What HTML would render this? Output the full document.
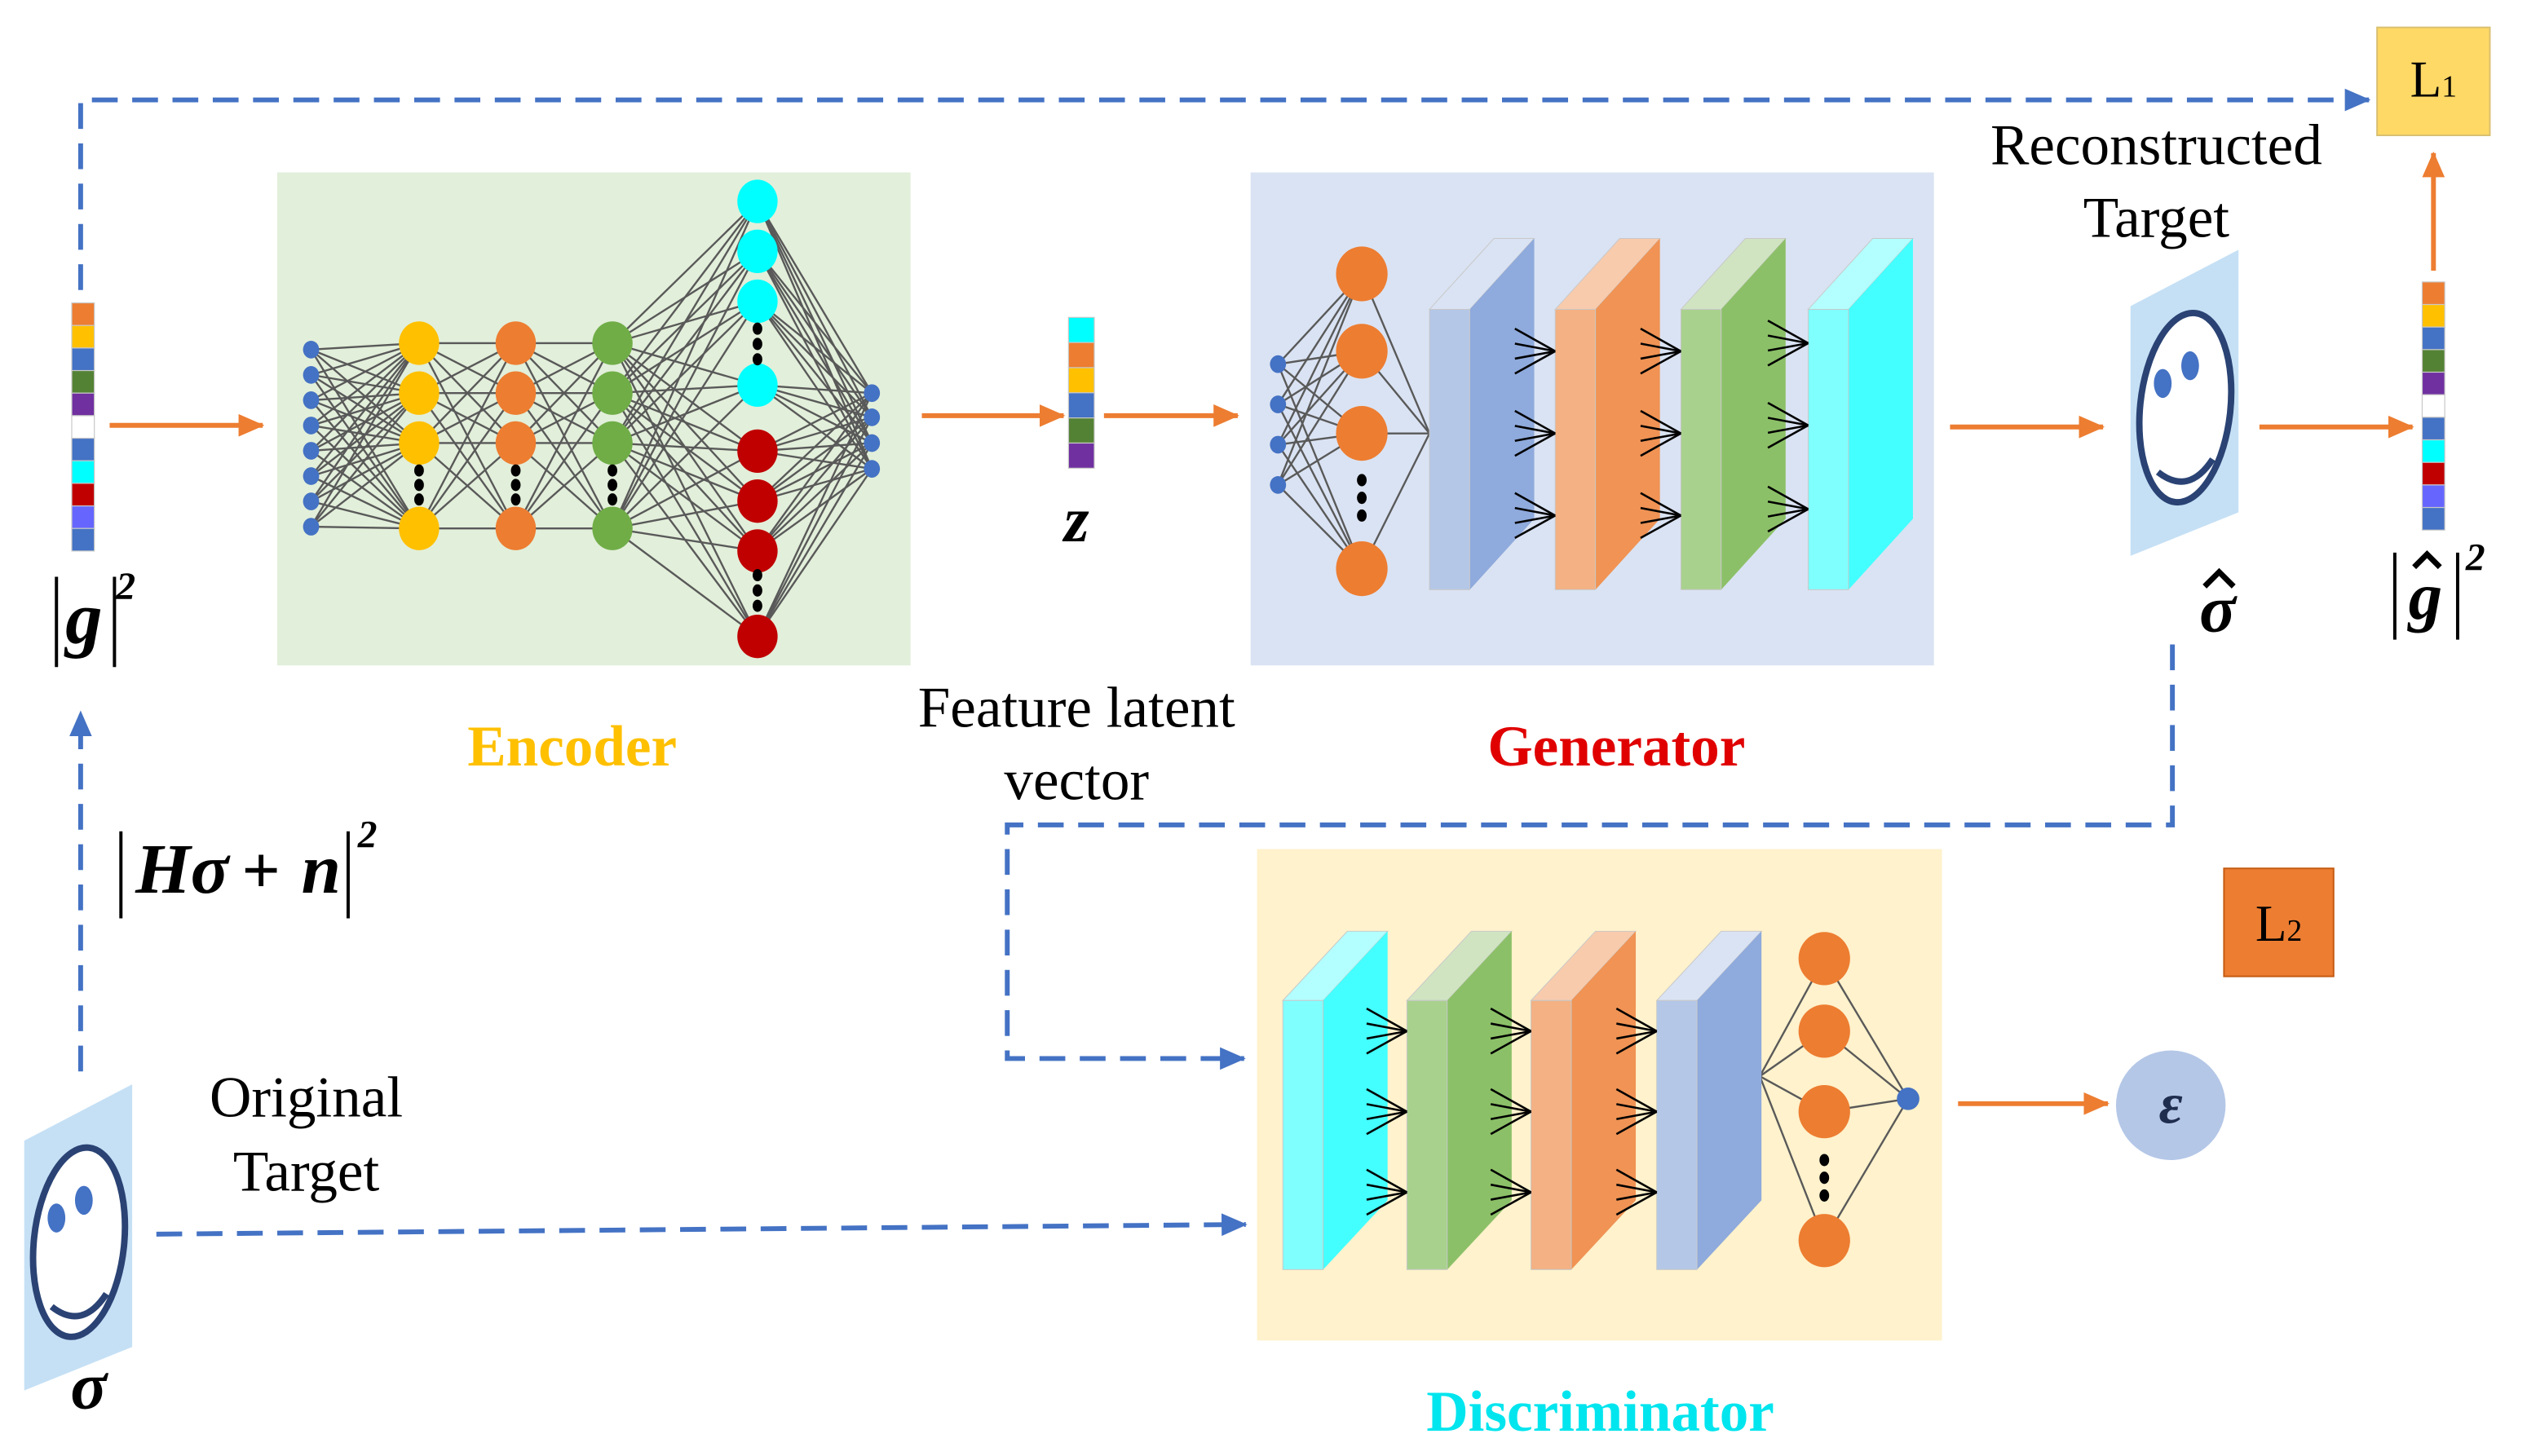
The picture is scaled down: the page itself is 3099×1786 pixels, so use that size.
<!DOCTYPE html>
<html><head><meta charset="utf-8"><style>
html,body{margin:0;padding:0;background:#fff}
svg{display:block}
text{font-family:"Liberation Serif",serif}
</style></head><body>
<svg id="s" width="3099" height="1786" viewBox="0 0 1568 903.7" xmlns="http://www.w3.org/2000/svg">
<defs>
<marker id="ao" markerWidth="16" markerHeight="14" refX="15" refY="7" orient="auto" markerUnits="userSpaceOnUse"><path d="M0,0L16,7L0,14z" fill="#ed7d31"/></marker>
<marker id="ab2" markerWidth="16" markerHeight="14" refX="15" refY="7" orient="auto" markerUnits="userSpaceOnUse"><path d="M0,0L16,7L0,14z" fill="#4472c4"/></marker>
</defs>
<rect x="172" y="107" width="393" height="306" fill="#e2efda"/>
<rect x="776" y="107" width="424" height="306" fill="#dae3f3"/>
<rect x="780" y="527" width="425" height="305" fill="#fff2cc"/>
<g id="net" stroke="#595959" stroke-width="1.2"></g>
<g id="nodes"></g>

<g fill="none" stroke="#4472c4" stroke-width="3" stroke-dasharray="16,9">
<path d="M50,180 V62 H1470" marker-end="url(#ab2)"/>
<path d="M50,665 V442" marker-end="url(#ab2)"/>
<path d="M1348,400 V512 H625 V657 H772" marker-end="url(#ab2)"/>
<path d="M97,766 L773,760" marker-end="url(#ab2)"/>
</g>
<g stroke="#ed7d31" stroke-width="3" fill="none">
<path d="M68,264H163" marker-end="url(#ao)"/>
<path d="M572,258H660" marker-end="url(#ao)"/>
<path d="M685,258H768" marker-end="url(#ao)"/>
<path d="M1210,265H1305" marker-end="url(#ao)"/>
<path d="M1402,265H1497" marker-end="url(#ao)"/>
<path d="M1510,168V95" marker-end="url(#ao)"/>
<path d="M1215,685H1308" marker-end="url(#ao)"/>
</g>

<rect x="1475" y="17" width="70" height="67" fill="#ffd966" stroke="#d9c070" stroke-width="1"/>
<text x="1510" y="60" font-size="32" text-anchor="middle">L<tspan font-size="19">1</tspan></text>
<rect x="1380" y="539" width="68" height="67" fill="#ed7d31" stroke="#c55a11" stroke-width="1"/>
<text x="1414" y="584" font-size="32" text-anchor="middle">L<tspan font-size="19">2</tspan></text>
<circle cx="1347" cy="686" r="34" fill="#b4c7e7"/>
<text x="1347" y="697" font-size="36" font-weight="bold" font-style="italic" text-anchor="middle" fill="#1f2d4f">ε</text>

<g>
<polygon points="1322,190 1389,155 1389,318 1322,345" fill="#c5e0f5"/>
<ellipse cx="1356" cy="253" rx="28" ry="59" fill="#fff" stroke="#2a4374" stroke-width="4" transform="rotate(6 1356 253)"/>
<ellipse cx="1342" cy="238" rx="5.5" ry="9" fill="#4472c4"/>
<ellipse cx="1359" cy="227" rx="5.5" ry="9" fill="#4472c4"/>
<path d="M1339,293 Q1358,308 1373,285" stroke="#2a4374" stroke-width="4" fill="none"/>
</g>
<g transform="translate(-1307,518)">
<polygon points="1322,190 1389,155 1389,318 1322,345" fill="#c5e0f5"/>
<ellipse cx="1356" cy="253" rx="28" ry="59" fill="#fff" stroke="#2a4374" stroke-width="4" transform="rotate(6 1356 253)"/>
<ellipse cx="1342" cy="238" rx="5.5" ry="9" fill="#4472c4"/>
<ellipse cx="1359" cy="227" rx="5.5" ry="9" fill="#4472c4"/>
<path d="M1339,293 Q1358,308 1373,285" stroke="#2a4374" stroke-width="4" fill="none"/>
</g>

<g font-size="36" text-anchor="middle">
<text x="668" y="451">Feature latent</text>
<text x="668" y="496">vector</text>
<text x="1338" y="102">Reconstructed</text>
<text x="1338" y="147">Target</text>
<text x="190" y="693">Original</text>
<text x="190" y="739">Target</text>
</g>
<g font-size="36" font-weight="bold" text-anchor="middle">
<text x="355" y="475" fill="#ffc000">Encoder</text>
<text x="1003" y="475" fill="#e00000">Generator</text>
<text x="993" y="888" fill="#00e5ee">Discriminator</text>
</g>
<g font-weight="bold" font-style="italic">
<text x="668" y="336" font-size="40" text-anchor="middle">z</text>
<text x="1376" y="392" font-size="42" text-anchor="middle">σ</text>
<text x="55" y="874" font-size="42" text-anchor="middle">σ</text>
<text x="52" y="399" font-size="46" text-anchor="middle">g</text>
<text x="1505" y="384" font-size="42" text-anchor="middle">g</text>
<text x="84" y="554" font-size="44">Hσ</text>
<text x="150" y="554" font-size="42" font-style="normal">+</text>
<text x="187" y="554" font-size="44">n</text>
<text x="72" y="372" font-size="24">2</text>
<text x="1530" y="354" font-size="24">2</text>
<text x="222" y="526" font-size="24">2</text>
</g>
<g fill="none" stroke="#000" stroke-width="3.5">
<path d="M1368,364 L1377,355 L1386,364"/>
<path d="M1498,352 L1506,344 L1514,352"/>
</g>
<g stroke="#000" stroke-width="2">
<line x1="35" y1="358" x2="35" y2="414"/><line x1="71" y1="358" x2="71" y2="414"/>
<line x1="1486" y1="343" x2="1486" y2="397"/><line x1="1525" y1="343" x2="1525" y2="397"/>
<line x1="75" y1="516" x2="75" y2="570"/><line x1="216" y1="516" x2="216" y2="570"/>
</g>
<g id="vec"></g>
</svg>
<script>
var NS="http://www.w3.org/2000/svg";
function el(p,t,a){var e=document.createElementNS(NS,t);for(var k in a)e.setAttribute(k,a[k]);p.appendChild(e);return e;}
var net=document.getElementById('net'),nodes=document.getElementById('nodes'),vec=document.getElementById('vec');
function conn(A,B){A.forEach(function(a){B.forEach(function(b){el(net,'line',{x1:a[0],y1:a[1],x2:b[0],y2:b[1]});});});}
function pts(x,ys){return ys.map(function(y){return[x,y];});}
function dots(x,y0,gap){for(var i=0;i<3;i++)el(nodes,'ellipse',{cx:x,cy:y0+i*gap,rx:3,ry:3.8,fill:'#000'});}
function circ(P,rx,ry,c){P.forEach(function(p){el(nodes,'ellipse',{cx:p[0],cy:p[1],rx:rx,ry:ry,fill:c});});}
var inp=[];for(var i=0;i<8;i++)inp.push([193,217+i*15.7]);
var Y=[213,244,275,328];
var l1=pts(260,Y),l2=pts(320,Y),l3=pts(380,Y);
var cy=pts(470,[125,156,187,239]),rd=pts(470,[280,311,342,395]);
var out=pts(541,[244,259,275,291]);
conn(inp,l1);conn(l1,l2);conn(l2,l3);conn(l3,cy.concat(rd));conn(cy.concat(rd),out);
circ(inp,5,5.5,'#4472c4');circ(l1,12.5,13.5,'#ffc000');circ(l2,12.5,13.5,'#ed7d31');circ(l3,12.5,13.5,'#70ad47');
circ(cy,12.5,13.5,'#00ffff');circ(rd,12.5,13.5,'#c00000');circ(out,5,5.5,'#4472c4');
dots(260,292,9);dots(320,292,9);dots(380,292,9);dots(470,204,9.5);dots(470,357,9.5);
var gi=pts(793,[226,251,276,301]),go=pts(845,[170,218,269,353]);
conn(gi,go);go.forEach(function(p){el(net,'line',{x1:p[0],y1:p[1],x2:887,y2:269});});
circ(gi,5,5.5,'#4472c4');circ(go,16,17,'#ed7d31');dots(845,298,11);
function slab(x,yt,yb,dx,dy,front,side,top){
 var w=25;
 el(nodes,'polygon',{points:[x,yt,x+w,yt,x+w+dx,yt-dy,x+dx,yt-dy].join(' '),fill:top,stroke:'#c8c8c8','stroke-width':0.5});
 el(nodes,'polygon',{points:[x+w,yt,x+w+dx,yt-dy,x+w+dx,yb-dy,x+w,yb].join(' '),fill:side});
 el(nodes,'rect',{x:x,y:yt,width:w,height:yb-yt,fill:front,stroke:'#c8c8c8','stroke-width':0.5});
}
function fan(x,y){for(var i=0;i<4;i++){var yy=y-14+i*9.3;el(nodes,'line',{x1:x-25,y1:yy,x2:x,y2:y,stroke:'#000','stroke-width':1.3});}}
var cols=[['#b4c7e7','#8faadc','#dae3f3'],['#f4b183','#f09354','#f8cbad'],['#a9d18e','#8cc068','#d0e4c2'],['#80ffff','#44ffff','#b3ffff']];
var gx=[887,965,1043,1122];
gx.forEach(function(x,i){slab(x,192,366,40,44,cols[i][0],cols[i][1],cols[i][2]);});
[965,1043,1122].forEach(function(x,i){var ys=i==2?[213,264,316]:[218,269,320];ys.forEach(function(y){fan(x,y);});});
var dc=[cols[3],cols[2],cols[1],cols[0]],dx=[796,873,950,1028];
dx.forEach(function(x,i){slab(x,621,788,40,43,dc[i][0],dc[i][1],dc[i][2]);});
[873,950,1028].forEach(function(x){[640,690,740].forEach(function(y){fan(x,y);});});
var dn=pts(1132,[595,640,690,770]);
dn.forEach(function(p){el(net,'line',{x1:1092,y1:668,x2:p[0],y2:p[1]});el(net,'line',{x1:p[0],y1:p[1],x2:1184,y2:682});});
circ(dn,16,16.5,'#ed7d31');dots(1132,720,11);el(nodes,'circle',{cx:1184,cy:682,r:7,fill:'#4472c4'});
var vc=['#ed7d31','#ffc000','#4472c4','#548235','#7030a0','#ffffff','#4472c4','#00ffff','#c00000','#6666ff','#4472c4'];
function vector(x,y,h,w,c){c.forEach(function(col,i){el(vec,'rect',{x:x,y:y+i*h,width:w,height:h,fill:col,stroke:'#c8c8c8','stroke-width':0.6});});}
vector(44.5,188,14,14,vc);vector(1503,175,14,14,vc);
vector(663,197,15.6,16,['#00ffff','#ed7d31','#ffc000','#4472c4','#548235','#7030a0']);
</script>
</body></html>
